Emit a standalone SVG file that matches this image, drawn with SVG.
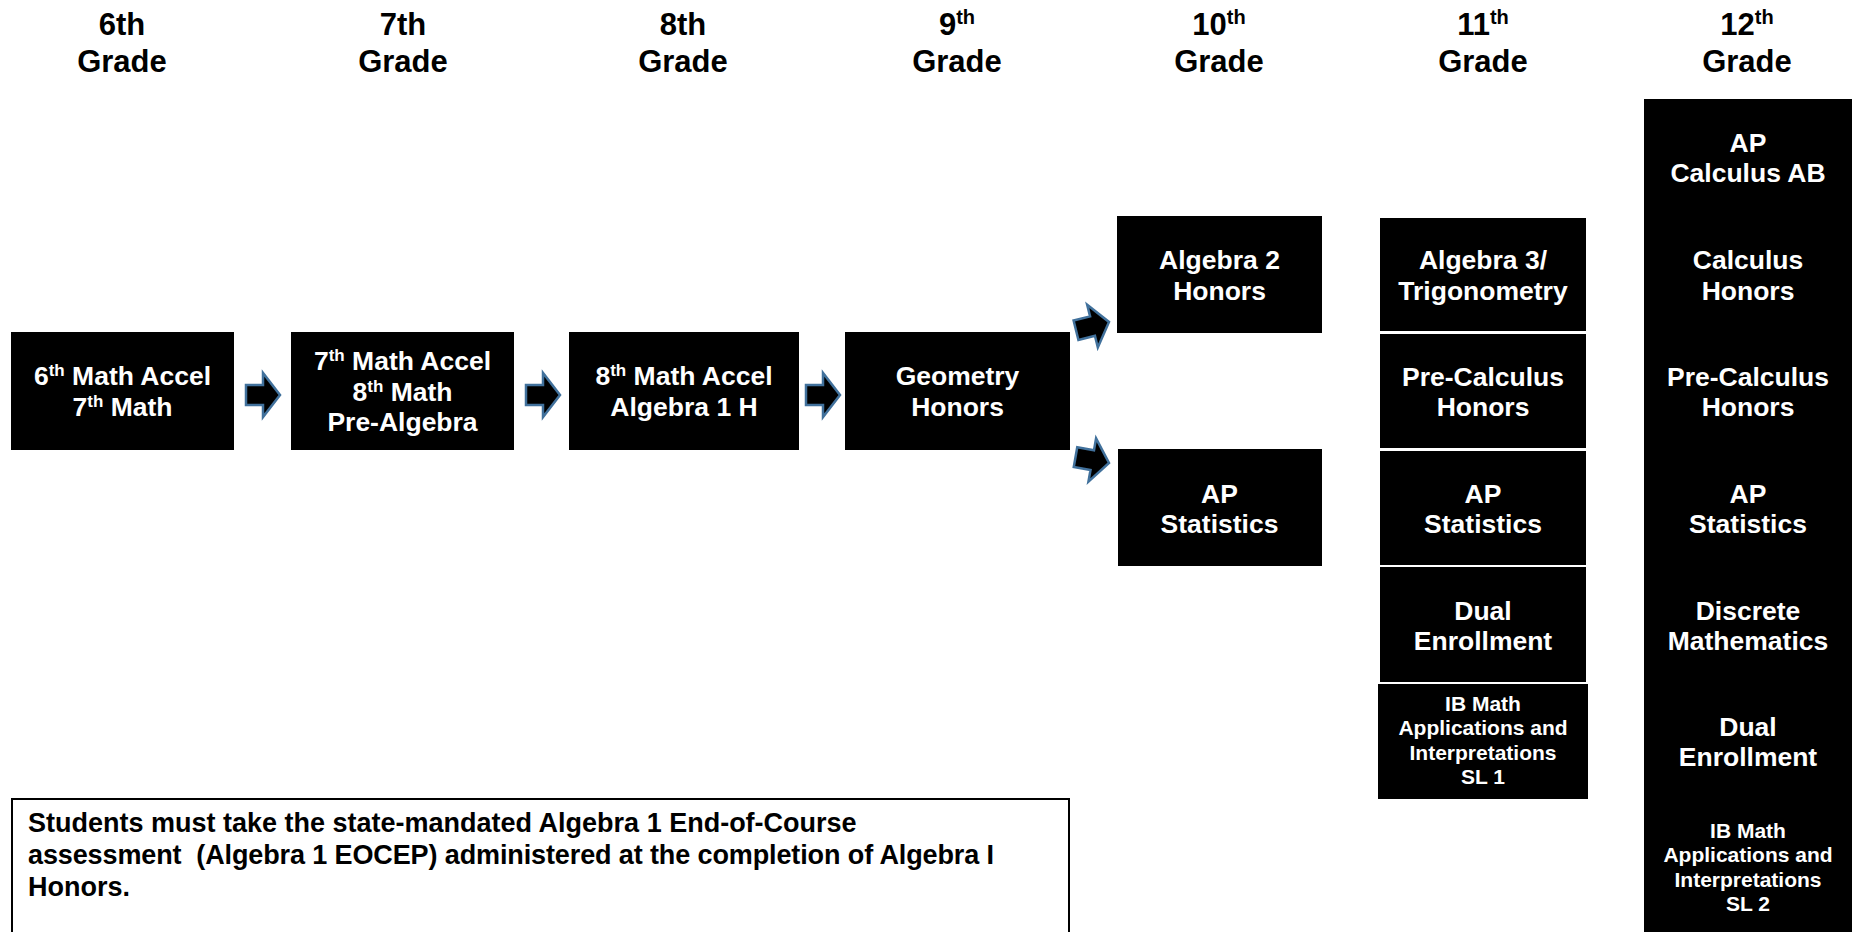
<svg xmlns="http://www.w3.org/2000/svg" width="1860" height="932" viewBox="0 0 1860 932">
<defs>
<style>
.hdr{font-family:"Liberation Sans",Arial,sans-serif;font-weight:bold;font-size:31px;fill:#000;text-anchor:middle}
.box{fill:#000}
.t{font-family:"Liberation Sans",Arial,sans-serif;font-weight:bold;font-size:26.5px;fill:#fff;text-anchor:middle}
.s{font-family:"Liberation Sans",Arial,sans-serif;font-weight:bold;font-size:21px;fill:#fff;text-anchor:middle}
.arr{fill:#000;stroke:#41719c;stroke-width:2.5;stroke-linejoin:miter}
.note{font-family:"Liberation Sans",Arial,sans-serif;font-weight:bold;font-size:27px;fill:#000}
</style>
<path id="blk" d="M-34,-10 L-17,-10 L-17,-22 L0,0 L-17,22 L-17,10 L-34,10 Z"/>
</defs>
<rect width="1860" height="932" fill="#fff"/>

<g id="headers">
<text class="hdr" x="122" y="35">6th</text><text class="hdr" x="122" y="72">Grade</text>
<text class="hdr" x="403" y="35">7th</text><text class="hdr" x="403" y="72">Grade</text>
<text class="hdr" x="683" y="35">8th</text><text class="hdr" x="683" y="72">Grade</text>
<text class="hdr" x="957" y="35">9<tspan font-size="20" baseline-shift="super">th</tspan></text><text class="hdr" x="957" y="72">Grade</text>
<text class="hdr" x="1219" y="35">10<tspan font-size="20" baseline-shift="super">th</tspan></text><text class="hdr" x="1219" y="72">Grade</text>
<text class="hdr" x="1483" y="35">11<tspan font-size="20" baseline-shift="super">th</tspan></text><text class="hdr" x="1483" y="72">Grade</text>
<text class="hdr" x="1747" y="35">12<tspan font-size="20" baseline-shift="super">th</tspan></text><text class="hdr" x="1747" y="72">Grade</text>
</g>

<g id="connectors">
<use href="#blk" class="arr" transform="translate(280,395)"/>
<use href="#blk" class="arr" transform="translate(560,395)"/>
<use href="#blk" class="arr" transform="translate(840,395)"/>
<use href="#blk" class="arr" transform="translate(1109,322) rotate(-14)"/>
<use href="#blk" class="arr" transform="translate(1109,463) rotate(10)"/>
</g>

<g id="n6">
<rect class="box" x="11" y="332" width="223" height="118"/>
<text class="t" x="122.5" y="385">6<tspan font-size="17" baseline-shift="super">th</tspan> Math Accel</text>
<text class="t" x="122.5" y="415.5">7<tspan font-size="17" baseline-shift="super">th</tspan> Math</text>
</g>
<g id="n7">
<rect class="box" x="291" y="332" width="223" height="118"/>
<text class="t" x="402.5" y="370">7<tspan font-size="17" baseline-shift="super">th</tspan> Math Accel</text>
<text class="t" x="402.5" y="400.5">8<tspan font-size="17" baseline-shift="super">th</tspan> Math</text>
<text class="t" x="402.5" y="431">Pre-Algebra</text>
</g>
<g id="n8">
<rect class="box" x="569" y="332" width="230" height="118"/>
<text class="t" x="684" y="385">8<tspan font-size="17" baseline-shift="super">th</tspan> Math Accel</text>
<text class="t" x="684" y="415.5">Algebra 1 H</text>
</g>
<g id="n9">
<rect class="box" x="845" y="332" width="225" height="118"/>
<text class="t" x="957.5" y="385">Geometry</text>
<text class="t" x="957.5" y="415.5">Honors</text>
</g>

<g id="n10a">
<rect class="box" x="1117" y="216" width="205" height="117"/>
<text class="t" x="1219.5" y="269">Algebra 2</text>
<text class="t" x="1219.5" y="299.5">Honors</text>
</g>
<g id="n10b">
<rect class="box" x="1118" y="449" width="204" height="117"/>
<text class="t" x="1219.5" y="502.5">AP</text>
<text class="t" x="1219.5" y="533">Statistics</text>
</g>

<g id="n11a">
<rect class="box" x="1380" y="218" width="206" height="113"/>
<text class="t" x="1483" y="269">Algebra 3/</text>
<text class="t" x="1483" y="299.5">Trigonometry</text>
</g>
<g id="n11b">
<rect class="box" x="1380" y="334" width="206" height="114"/>
<text class="t" x="1483" y="385.5">Pre-Calculus</text>
<text class="t" x="1483" y="416">Honors</text>
</g>
<g id="n11c">
<rect class="box" x="1380" y="451" width="206" height="114"/>
<text class="t" x="1483" y="502.5">AP</text>
<text class="t" x="1483" y="533">Statistics</text>
</g>
<g id="n11d">
<rect class="box" x="1380" y="567" width="206" height="115"/>
<text class="t" x="1483" y="619.5">Dual</text>
<text class="t" x="1483" y="650">Enrollment</text>
</g>
<g id="n11e">
<rect class="box" x="1378" y="684" width="210" height="115"/>
<text class="s" x="1483" y="710.5">IB Math</text>
<text class="s" x="1483" y="735">Applications and</text>
<text class="s" x="1483" y="759.5">Interpretations</text>
<text class="s" x="1483" y="784">SL 1</text>
</g>

<g id="n12">
<rect class="box" x="1644" y="99" width="208" height="840"/>
<text class="t" x="1748" y="151.5">AP</text>
<text class="t" x="1748" y="182">Calculus AB</text>
<text class="t" x="1748" y="269">Calculus</text>
<text class="t" x="1748" y="299.5">Honors</text>
<text class="t" x="1748" y="385.5">Pre-Calculus</text>
<text class="t" x="1748" y="416">Honors</text>
<text class="t" x="1748" y="502.5">AP</text>
<text class="t" x="1748" y="533">Statistics</text>
<text class="t" x="1748" y="619.5">Discrete</text>
<text class="t" x="1748" y="650">Mathematics</text>
<text class="t" x="1748" y="735.5">Dual</text>
<text class="t" x="1748" y="766">Enrollment</text>
<text class="s" x="1748" y="837.5">IB Math</text>
<text class="s" x="1748" y="862">Applications and</text>
<text class="s" x="1748" y="886.5">Interpretations</text>
<text class="s" x="1748" y="911">SL 2</text>
</g>

<g id="note">
<rect x="12" y="799" width="1057" height="150" fill="#fff" stroke="#000" stroke-width="2"/>
<text class="note" x="28" y="832">Students must take the state-mandated Algebra 1 End-of-Course</text>
<text class="note" x="28" y="864" xml:space="preserve" textLength="966" lengthAdjust="spacing">assessment  (Algebra 1 EOCEP) administered at the completion of Algebra I</text>
<text class="note" x="28" y="896">Honors.</text>
</g>
</svg>
